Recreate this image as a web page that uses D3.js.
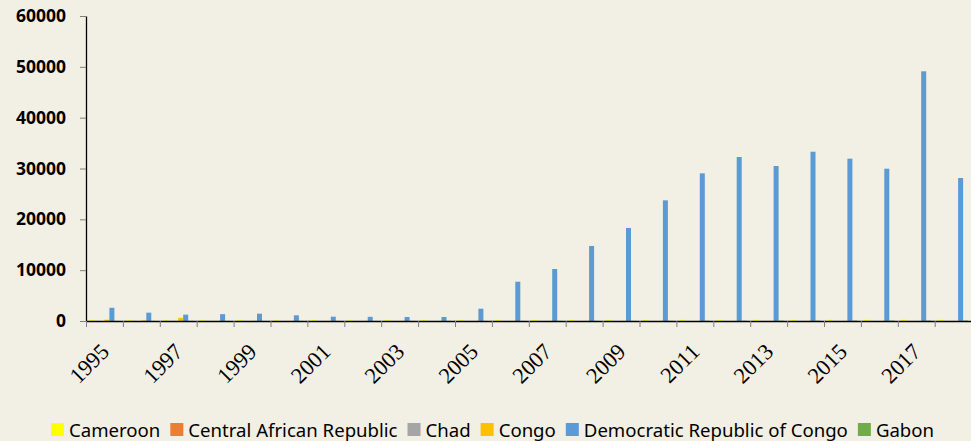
<!DOCTYPE html>
<html>
<head>
<meta charset="utf-8">
<script src="https://d3js.org/d3.v7.min.js"></script>
<style>
  body { margin: 0; background: #f2efe4; }
  svg { display: block; }
</style>
</head>
<body>
<div id="chart"></div>
<script>
// categories
var years = ["1995", "1996", "1997", "1998", "1999", "2000", "2001", "2002",
             "2003", "2004", "2005", "2006", "2007", "2008", "2009", "2010",
             "2011", "2012", "2013", "2014", "2015", "2016", "2017", "2018"];
var labelYears = ["1995", "1997", "1999", "2001", "2003", "2005",
                  "2007", "2009", "2011", "2013", "2015", "2017"];

var seriesNames = ["Cameroon", "Central African Republic", "Chad", "Congo",
                   "Democratic Republic of Congo", "Gabon"];
var seriesColors = ["#ffff00", "#ed7d31", "#a5a5a5", "#ffc000", "#5b9bd5", "#70ad47"];

// values per series
var cameroon = [180, 160, 170, 160, 170, 160, 170, 160, 170, 160, 170, 180,
                190, 200, 210, 200, 230, 240, 250, 240, 250, 240, 250, 240];
var car      = [20, 15, 10, 10, 10, 10, 10, 10, 10, 10, 10, 10,
                10, 10, 10, 10, 10, 10, 10, 10, 10, 10, 10, 10];
var chad     = [5, 5, 5, 5, 5, 5, 5, 5, 5, 5, 5, 5,
                5, 5, 5, 5, 5, 5, 5, 5, 5, 5, 5, 5];
var congo    = [250, 120, 620, 40, 40, 30, 30, 30, 30, 30, 30, 30,
                30, 30, 30, 30, 30, 30, 30, 30, 30, 30, 30, 30];
var drc      = [2600, 1640, 1250, 1350, 1440, 1120, 850, 820, 790, 790, 2420, 7730,
                10230, 14760, 18300, 23740, 29050, 32260, 30490, 33300, 31930, 29960, 49120, 28130];
var gabon    = [20, 20, 20, 20, 20, 20, 20, 20, 20, 20, 20, 20,
                30, 30, 30, 40, 50, 60, 70, 70, 80, 80, 80, 80];

var yTicks = [0, 10000, 20000, 30000, 40000, 50000, 60000];

var seriesValues = [cameroon, car, chad, congo, drc, gabon];

var width = 971, height = 441;
var plot = { left: 86, right: 971.6, top: 16, bottom: 321 };

var svg = d3.select("#chart").append("svg")
  .attr("width", width)
  .attr("height", height);

svg.append("rect")
  .attr("width", width).attr("height", height)
  .attr("fill", "#f2efe4");

var x0 = d3.scaleBand().domain(years).range([plot.left, plot.right]).padding(0);
var x1 = d3.scaleBand().domain(seriesNames).range([3.4, 33.4]).padding(0);
var y = d3.scaleLinear().domain([0, 60000]).range([plot.bottom, plot.top]);

// bars
var groups = svg.append("g").selectAll("g")
  .data(years)
  .join("g")
  .attr("transform", function(d) { return "translate(" + x0(d) + ",0)"; });

groups.selectAll("rect")
  .data(function(d, i) {
    return seriesNames.map(function(s, k) {
      return { name: s, value: seriesValues[k][i], color: seriesColors[k] };
    });
  })
  .join("rect")
  .attr("x", function(d) { return x1(d.name); })
  .attr("width", x1.bandwidth())
  .attr("y", function(d) { return y(d.value); })
  .attr("height", function(d) { return plot.bottom - y(d.value); })
  .attr("fill", function(d) { return d.color; });

// y axis
var yAxis = svg.append("g")
  .attr("transform", "translate(" + plot.left + ",0)")
  .call(d3.axisLeft(y).tickValues(yTicks).tickFormat(d3.format("d"))
        .tickSize(6).tickSizeOuter(0).tickPadding(14));
yAxis.select(".domain").attr("stroke", "#000").attr("stroke-width", 1.3);
yAxis.selectAll(".tick line").attr("stroke", "#7f7f7f");
yAxis.selectAll(".tick text")
  .attr("fill", "#000")
  .style("font-family", "'Noto Sans', sans-serif")
  .style("font-weight", "bold")
  .style("font-size", "17.5px");

// x axis: ticks between categories
var xIdx = d3.scaleLinear().domain([0, years.length]).range([plot.left, plot.right]);
var xAxis = svg.append("g")
  .attr("transform", "translate(0," + plot.bottom + ")")
  .call(d3.axisBottom(xIdx).tickValues(d3.range(0, years.length + 1))
        .tickFormat("").tickSize(6).tickSizeOuter(0));
xAxis.select(".domain").attr("stroke", "#000").attr("stroke-width", 1.3);
xAxis.selectAll(".tick line").attr("stroke", "#7f7f7f");

// rotated year labels
svg.append("g").selectAll("text")
  .data(labelYears)
  .join("text")
  .attr("transform", function(d) {
    var cx = x0(d) + x0.bandwidth() / 2 + 6;
    return "translate(" + cx + "," + 353 + ") rotate(-45)";
  })
  .attr("text-anchor", "end")
  .style("font-family", "'Liberation Serif', 'Times New Roman', serif")
  .style("font-size", "22.5px")
  .attr("fill", "#000")
  .text(function(d) { return d; });

// legend
var legend = svg.append("g").attr("transform", "translate(0,430)");
var items = legend.selectAll("g")
  .data(seriesNames)
  .join("g");
items.append("rect")
  .attr("y", -7).attr("width", 13).attr("height", 13)
  .attr("fill", function(d, i) { return seriesColors[i]; });
items.append("text")
  .attr("x", 18)
  .attr("dy", "0.35em")
  .style("font-family", "'Noto Sans', sans-serif")
  .style("font-size", "18.6px")
  .attr("fill", "#000")
  .text(function(d) { return d; });

var pos = 0, offsets = [];
items.each(function() {
  offsets.push(pos);
  pos += 18 + d3.select(this).select("text").node().getComputedTextLength() + 10;
});
var total = pos - 10;
var start = 492.5 - total / 2;
items.attr("transform", function(d, i) { return "translate(" + (start + offsets[i]) + ",0)"; });
</script>
</body>
</html>
